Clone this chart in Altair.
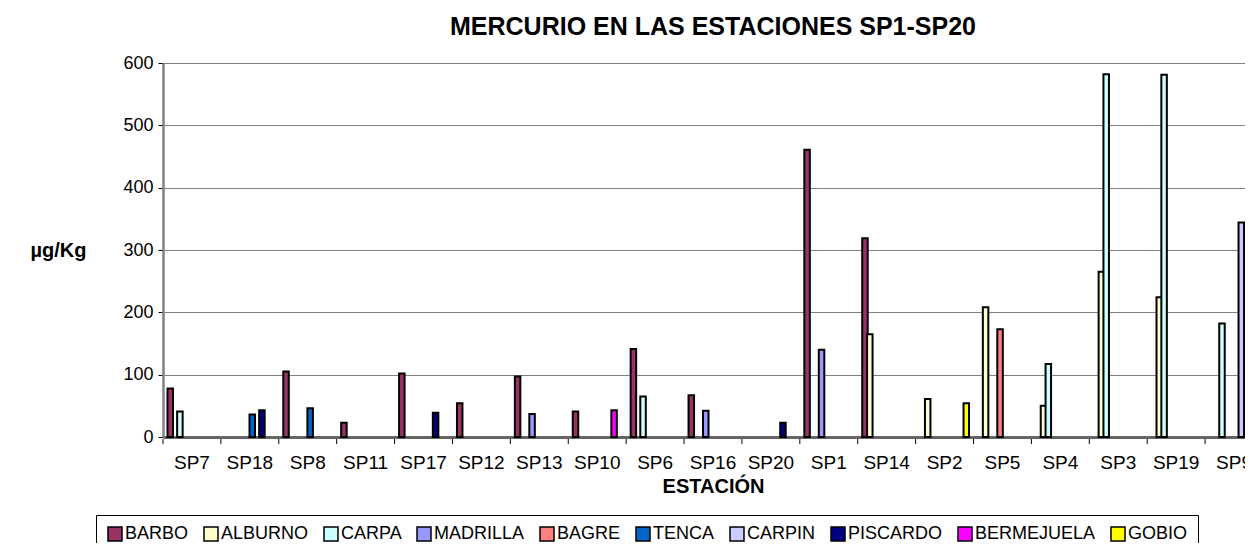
import altair as alt
import pandas as pd

stations = ["SP7", "SP18", "SP8", "SP11", "SP17", "SP12", "SP13", "SP10", "SP6", "SP16",
            "SP20", "SP1", "SP14", "SP2", "SP5", "SP4", "SP3", "SP19", "SP9"]
species = ["BARBO", "ALBURNO", "CARPA", "MADRILLA", "BAGRE", "TENCA", "CARPIN",
           "PISCARDO", "BERMEJUELA", "GOBIO"]
colors = ["#993366", "#FFFFCC", "#CCFFFF", "#9999FF", "#FF8080", "#0066CC", "#CCCCFF",
          "#000080", "#FF00FF", "#FFFF00"]

#            SP7 SP18 SP8 SP11 SP17 SP12 SP13 SP10 SP6 SP16 SP20 SP1 SP14 SP2 SP5 SP4 SP3 SP19 SP9
barbo      = [78, 0, 105, 23, 102, 54, 97, 41, 141, 67, 0, 461, 319, 0, 0, 0, 0, 0, 0]
alburno    = [0, 0, 0, 0, 0, 0, 0, 0, 0, 0, 0, 0, 165, 61, 208, 50, 265, 224, 0]
carpa      = [41, 0, 0, 0, 0, 0, 0, 0, 65, 0, 0, 0, 0, 0, 0, 117, 582, 581, 182]
madrilla   = [0, 0, 0, 0, 0, 0, 37, 0, 0, 42, 0, 140, 0, 0, 0, 0, 0, 0, 0]
bagre      = [0, 0, 0, 0, 0, 0, 0, 0, 0, 0, 0, 0, 0, 0, 173, 0, 0, 0, 0]
tenca      = [0, 36, 46, 0, 0, 0, 0, 0, 0, 0, 0, 0, 0, 0, 0, 0, 0, 0, 0]
carpin     = [0, 0, 0, 0, 0, 0, 0, 0, 0, 0, 0, 0, 0, 0, 0, 0, 0, 0, 344]
piscardo   = [0, 43, 0, 0, 39, 0, 0, 0, 0, 0, 23, 0, 0, 0, 0, 0, 0, 0, 0]
bermejuela = [0, 0, 0, 0, 0, 0, 0, 43, 0, 0, 0, 0, 0, 0, 0, 0, 0, 0, 0]
gobio      = [0, 0, 0, 0, 0, 0, 0, 0, 0, 0, 0, 0, 0, 54, 0, 0, 0, 0, 0]

series = [barbo, alburno, carpa, madrilla, bagre, tenca, carpin, piscardo, bermejuela, gobio]

rows = []
for sp, vals in zip(species, series):
    for st, v in zip(stations, vals):
        if v > 0:
            rows.append({"station": st, "species": sp, "value": v})
df = pd.DataFrame(rows)
ticks_df = pd.DataFrame({"station": stations})

FONT = "Liberation Sans"
W, H = 1082, 374
FULL_W = 1100  # the category axis runs past the right edge of the window

x_scale = alt.Scale(domain=stations, paddingInner=0, paddingOuter=0, range=[0, FULL_W])

bars = alt.Chart(df).mark_bar(stroke="black", strokeWidth=2, width=5.5).encode(
    x=alt.X("station:N", scale=x_scale, sort=stations,
            axis=alt.Axis(title="ESTACIÓN", labelAngle=0, ticks=False, labelPadding=16,
                          domainColor="#666666", domainWidth=3, labelFontSize=19,
                          labelFont=FONT, labelColor="black", titleFont=FONT,
                          titleFontSize=20, titleFontWeight="bold", titleColor="black",
                          titlePadding=4, titleX=FULL_W / 2, grid=False)),
    xOffset=alt.XOffset("species:N", sort=species,
                        scale=alt.Scale(domain=species, paddingInner=0, paddingOuter=1)),
    y=alt.Y("value:Q",
            scale=alt.Scale(domain=[0, 600]),
            axis=alt.Axis(title="µg/Kg", values=[0, 100, 200, 300, 400, 500, 600],
                          titleAngle=0, titleAlign="center", titleBaseline="middle",
                          titleX=-105, titleY=H / 2, titleFont=FONT, titleFontSize=20,
                          titleFontWeight="bold", titleColor="black",
                          labelFont=FONT, labelFontSize=18, labelColor="black",
                          domainColor="#808080", domainWidth=2.5, tickColor="black",
                          tickSize=5, gridColor="#808080", gridWidth=1.2, labelPadding=5)),
    color=alt.Color("species:N", sort=species,
                    scale=alt.Scale(domain=species, range=colors),
                    legend=alt.Legend(title=None, orient="none", legendX=-67, legendY=452,
                                      direction="horizontal", columns=10,
                                      symbolType="square", symbolSize=196,
                                      symbolStrokeColor="black", symbolStrokeWidth=1.5,
                                      symbolOpacity=1, labelFont=FONT, labelFontSize=18,
                                      labelColor="black", labelOffset=1, columnPadding=12,
                                      strokeColor="black", padding=10, fillColor="white")),
)

ticks = alt.Chart(ticks_df).mark_rule(color="black", strokeWidth=1).encode(
    x=alt.X("station:N", scale=x_scale, sort=stations, bandPosition=0),
    y=alt.value(H + 2),
    y2=alt.value(H + 7),
)

chart = alt.layer(bars, ticks).properties(
    width=W, height=H,
    title=alt.TitleParams("MERCURIO EN LAS ESTACIONES SP1-SP20", font=FONT, fontSize=25,
                          fontWeight="bold", color="black", anchor="middle",
                          dx=(FULL_W - W) / 2, offset=14),
    autosize=alt.AutoSizeParams(type="none"),
    padding={"left": 155, "top": 55, "right": 0, "bottom": 106},
).configure_view(stroke=None)

chart.save("out.html", embed_options={"renderer": "svg", "actions": False})
